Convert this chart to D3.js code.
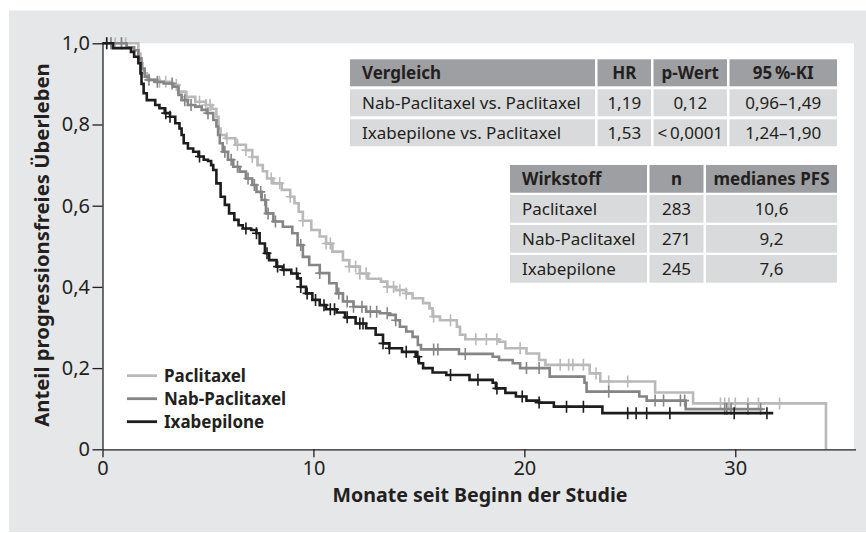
<!DOCTYPE html>
<html>
<head>
<meta charset="utf-8">
<script src="https://cdn.jsdelivr.net/npm/d3@7"></script>
<style>
  body { margin: 0; background: #fff; }
  svg { display: block; font-family: "Noto Sans", sans-serif; }
</style>
</head>
<body>
<svg id="chart" width="866" height="533"></svg>
<script>
// Kaplan-Meier steps: [Monat, Anteil]
const paclitaxel = [[0,1],[1.7,0.975],[1.8,0.951],[1.9,0.926],[2.1,0.91],[2.7,0.905],[3.3,0.897],[3.6,0.881],[3.95,0.868],[4.4,0.856],[4.9,0.848],[5.2,0.838],[5.4,0.819],[5.5,0.79],[5.6,0.774],[5.85,0.766],[6.3,0.75],[6.8,0.737],[7.1,0.72],[7.35,0.70],[7.6,0.685],[7.8,0.667],[8.1,0.655],[8.5,0.639],[8.9,0.622],[9.1,0.606],[9.3,0.585],[9.5,0.563],[9.9,0.54],[10.3,0.524],[10.6,0.507],[10.9,0.487],[11.4,0.466],[11.7,0.45],[12.2,0.433],[12.6,0.42],[13.2,0.413],[13.5,0.40],[13.9,0.392],[14.4,0.384],[14.7,0.372],[15.2,0.36],[15.5,0.347],[15.65,0.327],[16.0,0.318],[16.8,0.302],[16.95,0.282],[17.2,0.271],[18.8,0.265],[19.1,0.249],[20.1,0.236],[20.7,0.22],[21.0,0.208],[23.1,0.187],[23.6,0.167],[26.2,0.14],[28.0,0.113],[34.3,0]];
const nabPaclitaxel = [[0,1],[1.15,0.99],[1.5,0.983],[1.7,0.963],[1.85,0.938],[2.0,0.918],[2.2,0.91],[2.5,0.905],[2.9,0.901],[3.35,0.893],[3.6,0.873],[3.75,0.86],[4.05,0.848],[4.4,0.844],[4.7,0.836],[4.95,0.828],[5.25,0.811],[5.4,0.795],[5.48,0.774],[5.56,0.754],[5.7,0.733],[5.95,0.713],[6.2,0.696],[6.5,0.684],[6.8,0.667],[7.1,0.651],[7.3,0.634],[7.55,0.614],[7.75,0.581],[8.1,0.561],[8.55,0.548],[9.0,0.532],[9.25,0.503],[9.5,0.474],[9.8,0.454],[10.3,0.434],[10.75,0.409],[11.1,0.384],[11.4,0.364],[11.9,0.351],[12.5,0.339],[13.15,0.335],[13.6,0.331],[13.9,0.318],[14.1,0.302],[14.4,0.29],[14.7,0.277],[14.95,0.257],[15.1,0.246],[16.9,0.235],[18.5,0.228],[18.8,0.22],[19.45,0.212],[19.8,0.2],[21.2,0.179],[22.85,0.164],[22.95,0.142],[25.45,0.13],[25.8,0.12],[27.65,0.099]];
const ixabepilone = [[0,1],[0.5,0.988],[1.35,0.979],[1.5,0.967],[1.7,0.951],[1.8,0.926],[1.85,0.90],[1.95,0.877],[2.1,0.86],[2.5,0.848],[2.7,0.84],[2.95,0.828],[3.2,0.819],[3.45,0.803],[3.65,0.79],[3.75,0.774],[3.85,0.754],[4.05,0.741],[4.3,0.733],[4.55,0.721],[4.8,0.713],[5.0,0.71],[5.15,0.70],[5.25,0.688],[5.4,0.655],[5.6,0.622],[5.8,0.602],[6.0,0.581],[6.25,0.565],[6.45,0.552],[6.65,0.544],[7.05,0.54],[7.3,0.532],[7.45,0.507],[7.7,0.483],[7.9,0.466],[8.25,0.45],[8.55,0.442],[8.95,0.433],[9.25,0.421],[9.4,0.40],[9.65,0.384],[9.95,0.368],[10.3,0.355],[10.6,0.345],[11.1,0.337],[11.5,0.325],[12.0,0.31],[12.5,0.298],[12.95,0.282],[13.3,0.261],[13.6,0.249],[14.2,0.24],[14.85,0.228],[15.0,0.212],[15.2,0.2],[15.65,0.189],[16.3,0.183],[17.4,0.171],[18.5,0.164],[18.65,0.15],[19.1,0.139],[19.6,0.13],[20.1,0.12],[20.7,0.115],[21.4,0.105],[23.7,0.089]];

// letzte Beobachtung je Arm
const followUpEnd = [34.3, 31.3, 31.8];

// zensierte Patientinnen (Monate)
const censPaclitaxel = [0.2,0.4,0.6,0.9,1.1,2.7,3.0,3.5,4.0,4.6,4.9,5.1,5.9,6.4,6.8,7.1,8.0,8.4,8.9,9.5,10.6,10.8,11.7,12.0,12.2,12.5,13.5,13.8,14.1,14.4,15.7,16.5,17.7,18.2,18.7,19.8,21.7,22.1,22.3,22.8,23.4,24.0,24.9,29.3,29.5,29.7,30.0,30.6,31.1,32.1];
const censNab = [0.4,0.9,2.2,2.6,3.3,3.9,4.2,5.0,5.8,6.1,6.4,6.9,7.2,7.5,7.7,7.85,8.2,9.4,10.3,11.2,11.6,11.9,12.3,12.7,13.0,13.5,13.9,15.7,15.9,17.2,20.1,20.7,24.0,26.2,26.6,27.4,27.6,29.5,29.6,29.8,30.6,31.2];
const censIxa = [0.2,3.0,3.2,4.6,6.8,7.3,7.8,8.3,8.6,9.2,9.4,9.7,10.1,10.5,10.8,11.0,11.6,12.2,12.35,13.3,13.6,14.4,14.95,16.5,17.8,18.7,19.9,20.7,22.0,22.8,24.9,25.3,25.8,26.9,29.95,31.5];

const seriesNames = ["Paclitaxel", "Nab-Paclitaxel", "Ixabepilone"];
const seriesColors = ["#b9b9b9", "#858585", "#1e1c1c"];

const xTicks = [0, 10, 20, 30];
const yTicks = [0, 0.2, 0.4, 0.6, 0.8, 1.0];
const yTickLabels = ["0", "0,2", "0,4", "0,6", "0,8", "1,0"];

const compHeader = ["Vergleich", "HR", "p-Wert", "95\u202F%-KI"];
const compRows = [
    ["Nab-Paclitaxel vs. Paclitaxel", "1,19", "0,12", "0,96\u20131,49"],
    ["Ixabepilone vs. Paclitaxel", "1,53", "<\u202F0,0001", "1,24\u20131,90"]
];
const drugHeader = ["Wirkstoff", "n", "medianes PFS"];
const drugRows = [
    ["Paclitaxel", "283", "10,6"],
    ["Nab-Paclitaxel", "271", "9,2"],
    ["Ixabepilone", "245", "7,6"]
];

var svg = d3.select("#chart");
var ink = "#231f20";

var x = d3.scaleLinear().domain([0, 35.7]).range([102.5, 855.5]);
var y = d3.scaleLinear().domain([0, 1]).range([449.3, 43.3]);

svg.append("rect")
    .attr("x", 9).attr("y", 10.5)
    .attr("width", 857).attr("height", 521.5)
    .attr("fill", "#e6e7e8");

svg.append("rect")
    .attr("x", x(0)).attr("y", y(1))
    .attr("width", 854 - x(0)).attr("height", y(0) - y(1))
    .attr("fill", "#fff");

// tables
function drawTable(cols, rows0, header, rows, rowH, gap) {
    var g = svg.append("g");
    var all = [header].concat(rows);
    all.forEach(function(row, ri) {
        var top = rows0 + ri * (rowH + gap);
        row.forEach(function(txt, ci) {
            var c = cols[ci];
            g.append("rect")
                .attr("x", c[0]).attr("y", top)
                .attr("width", c[1] - c[0]).attr("height", rowH)
                .attr("fill", ri === 0 ? "#9e9fa2" : "#d9dadb");
            g.append("text")
                .attr("x", ci === 0 ? c[0] + 12 : (c[0] + c[1]) / 2)
                .attr("y", top + rowH / 2 + 6)
                .attr("text-anchor", ci === 0 ? "start" : "middle")
                .attr("font-size", 17)
                .attr("font-weight", ri === 0 ? 700 : 400)
                .attr("fill", ink)
                .text(txt);
        });
    });
}

drawTable([[350, 595], [597.5, 651], [653.5, 727], [729.5, 837]], 59.3, compHeader, compRows, 27, 3);
drawTable([[510, 647], [649.5, 703.5], [706, 837]], 165, drugHeader, drugRows, 27.7, 2.3);

// curves
var line = d3.line()
    .x(d => x(d[0]))
    .y(d => y(d[1]))
    .curve(d3.curveStepAfter);

var valueAt = function(steps, t) {
    var v = steps[0][1];
    steps.forEach(function(s) { if (s[0] <= t) v = s[1]; });
    return v;
};

var allSteps = [paclitaxel, nabPaclitaxel, ixabepilone];
var allCens = [censPaclitaxel, censNab, censIxa];

allSteps.forEach(function(steps, i) {
    var pts = steps.slice();
    var last = pts[pts.length - 1];
    if (last[0] < followUpEnd[i]) pts.push([followUpEnd[i], last[1]]);

    svg.append("path")
        .datum(pts)
        .attr("d", line)
        .attr("fill", "none")
        .attr("stroke", seriesColors[i])
        .attr("stroke-width", 2.6)
        .attr("stroke-linejoin", "miter");

    svg.append("g").selectAll("path")
        .data(allCens[i])
        .enter().append("path")
        .attr("d", function(t) {
            var cx = x(t), cy = y(valueAt(steps, t));
            return "M" + (cx - 4.5) + "," + cy + "H" + (cx + 4.5) + "M" + cx + "," + (cy - 6) + "V" + (cy + 6);
        })
        .attr("stroke", seriesColors[i])
        .attr("stroke-width", 1.6)
        .attr("fill", "none");
});

// axes
var xAxis = d3.axisBottom(x).tickValues(xTicks).tickSize(8).tickSizeOuter(0).tickPadding(4);
var yAxis = d3.axisLeft(y).tickValues(yTicks).tickSize(10).tickSizeOuter(0).tickPadding(2.5)
    .tickFormat((d, i) => yTickLabels[i]);

var gx = svg.append("g")
    .attr("transform", "translate(0," + y(0) + ")")
    .call(xAxis);
var gy = svg.append("g")
    .attr("transform", "translate(" + x(0) + ",0)")
    .call(yAxis);

[gx, gy].forEach(function(g) {
    g.selectAll("path, line").attr("stroke", ink).attr("stroke-width", 1.3);
    g.selectAll("text").attr("fill", ink).attr("font-size", 20).attr("font-family", "Noto Sans");
});

svg.append("text")
    .attr("x", 480).attr("y", 502)
    .attr("text-anchor", "middle")
    .attr("font-size", 19.6).attr("font-weight", 700)
    .attr("fill", ink)
    .text("Monate seit Beginn der Studie");

svg.append("text")
    .attr("transform", "translate(49,245) rotate(-90)")
    .attr("text-anchor", "middle")
    .attr("font-size", 20.3).attr("font-weight", 700)
    .attr("fill", ink)
    .text("Anteil progressionsfreies \u00dcberleben");

// legend
var legend = svg.append("g").selectAll("g")
    .data(seriesNames)
    .enter().append("g")
    .attr("transform", (d, i) => "translate(127," + (375.7 + i * 23) + ")");

legend.append("line")
    .attr("x1", 0).attr("x2", 30)
    .attr("stroke", (d, i) => seriesColors[i])
    .attr("stroke-width", 2.8);

legend.append("text")
    .attr("x", 37).attr("y", 6)
    .attr("font-size", 17).attr("font-weight", 700)
    .attr("fill", ink)
    .text(d => d);
</script>
</body>
</html>
